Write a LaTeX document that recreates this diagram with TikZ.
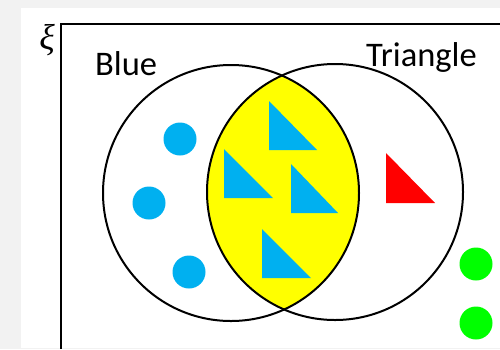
\documentclass[tikz,border=0pt]{standalone}
\usepackage{fontspec}
\setmainfont{Carlito}
\newfontfamily\symbolfont{Liberation Serif}
\definecolor{pagegray}{HTML}{F2F2F2}
\definecolor{skyblue}{HTML}{00B0F0}
\definecolor{leafgreen}{HTML}{00FF00}
\definecolor{setyellow}{HTML}{FFFF00}
\definecolor{shapered}{HTML}{FF0000}
\tikzset{
  setline/.style={draw=black, line width=2pt},
  setcircle/.style={circle, setline, minimum size=256pt, inner sep=0pt},
  dot/.style={circle, minimum size=33pt, inner sep=0pt},
  setlabel/.style={font=\fontsize{34.5}{40}\selectfont, inner sep=0pt, anchor=base west},
  rtri/.style={fill=#1, draw=none}
}
\begin{document}
\begin{tikzpicture}[x=1pt, y=-1pt]
  \useasboundingbox (0,0) rectangle (500,349);
  \fill[pagegray] (0,0) rectangle (500,349);
  \fill[white] (21,8) rectangle (500,348);

  \begin{scope}
    \clip (21,8) rectangle (500,348);
    % universal set frame (continues past the page edge)
    \draw[line width=2pt] (61,360) -- (61,24) -- (510,24);

    % the two sets
    \coordinate (cb) at (231,193);
    \coordinate (ct) at (335,192);
    \begin{scope}
      \clip (cb) circle (128);
      \fill[setyellow] (ct) circle (128);
    \end{scope}
    \node[setcircle] (blueset) at (cb) {};
    \node[setcircle] (triset) at (ct) {};

    % labels
    \node[font=\symbolfont\itshape\fontsize{36}{40}\selectfont, inner sep=0pt] (xi) at (47,40) {ξ};
    \node[setlabel] (bluelabel) at (95,75) {Blue};
    \node[setlabel] (trilabel) at (366,66) {Triangle};

    % blue circles
    \node[dot, fill=skyblue] (b1) at (180,139) {};
    \node[dot, fill=skyblue] (b2) at (149,203) {};
    \node[dot, fill=skyblue] (b3) at (189,272) {};

    % green circles
    \node[dot, fill=leafgreen] (g1) at (476,264) {};
    \node[dot, fill=leafgreen] (g2) at (476,323) {};

    % blue triangles
    \fill[rtri=skyblue] (269,101) -- (269,150) -- (317,150) -- cycle;
    \fill[rtri=skyblue] (224,149) -- (224,198) -- (273,198) -- cycle;
    \fill[rtri=skyblue] (291,164) -- (291,213) -- (338,213) -- cycle;
    \fill[rtri=skyblue] (262,229) -- (262,278) -- (311,278) -- cycle;

    % red triangle
    \fill[rtri=shapered] (386,153) -- (386,203) -- (435,203) -- cycle;
  \end{scope}
\end{tikzpicture}
\end{document}
